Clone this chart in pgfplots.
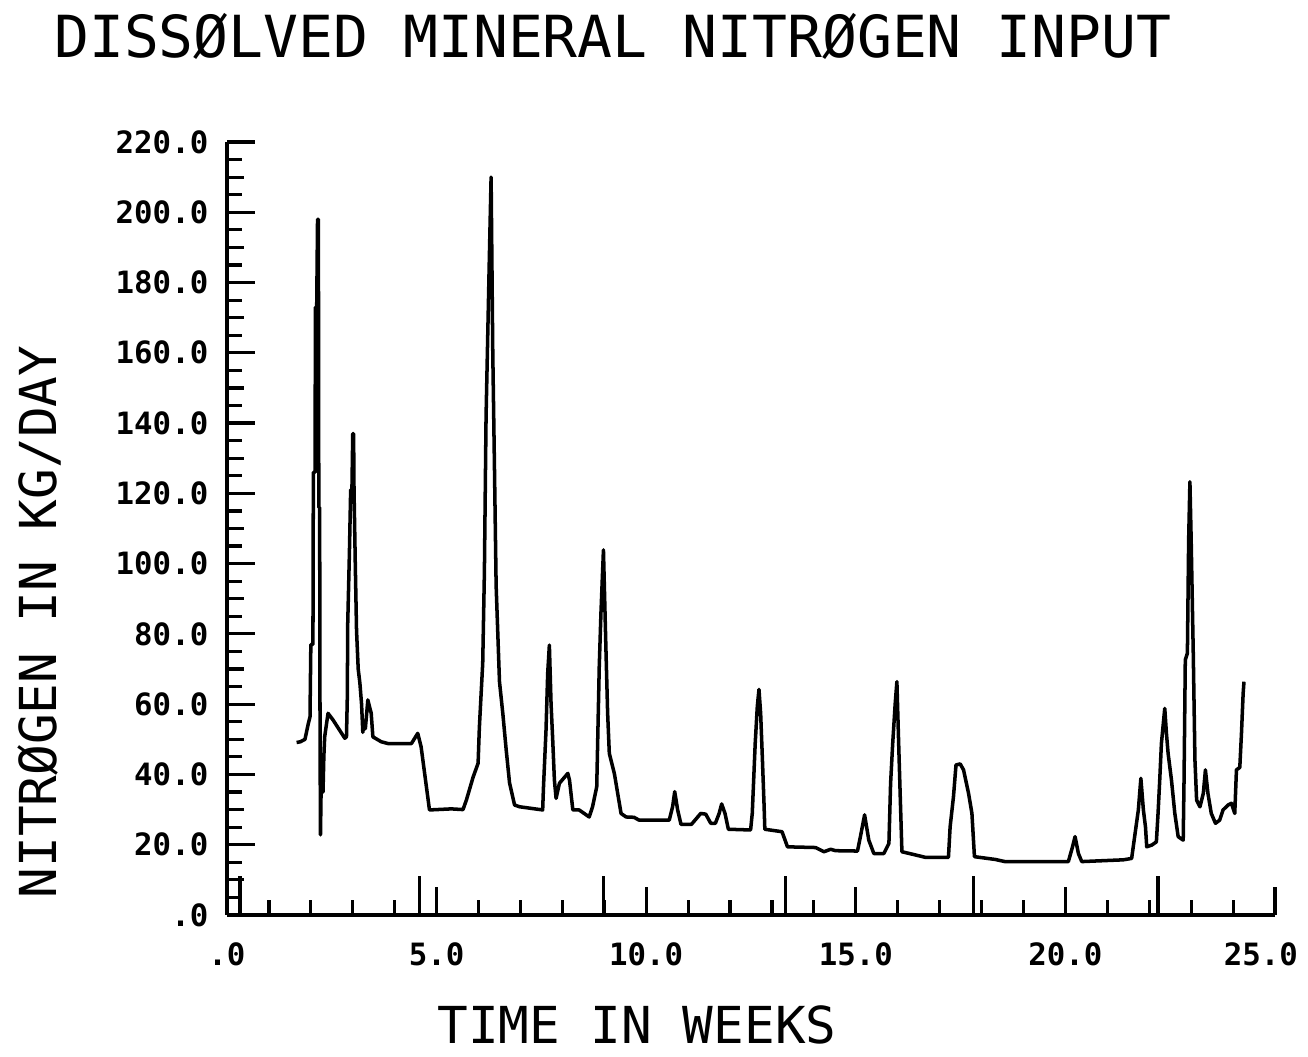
\documentclass[border=0pt]{standalone}
\usepackage{fontspec}
\usepackage{pgfplots}
\pgfplotsset{compat=1.18}
\newfontfamily\plotfont{DejaVu Sans Mono}

% dissolved mineral nitrogen input, kg/day against weeks
\pgfplotstableread{
wk    n
1.66  49.1
1.75  49.3
1.86  50.0
1.94  54.5
1.98  56.4
2.00  77
2.05  77
2.06  126
2.10  126
2.11  173
2.14  173
2.16  198
2.18  198
2.19  116
2.21  116
2.22  49
2.23  22.8
2.25  40
2.29  35
2.31  45
2.33  50.7
2.41  57.4
2.53  55.5
2.81  50.3
2.85  50.7
2.87  62
2.88  83
2.92  103
2.95  121
2.98  121
3.00  137
3.02  137
3.03  121
3.06  100
3.09  81
3.13  70
3.17  66
3.21  60
3.24  52
3.27  55
3.30  53
3.36  61.2
3.44  57.4
3.48  50.7
3.68  49.3
3.84  48.8
4.40  48.8
4.55  51.7
4.63  47.9
4.83  29.9
5.35  30.2
5.63  30.0
5.71  32.7
5.87  39.2
5.99  43.2
6.02  53.3
6.06  62.5
6.10  71.6
6.14  97.5
6.18  142
6.26  188
6.30  210
6.34  160
6.38  127.6
6.42  93.8
6.50  66.4
6.58  57.3
6.66  47
6.74  37.6
6.86  31.3
6.98  30.8
7.53  29.9
7.55  36.5
7.61  52.6
7.65  68.8
7.69  76.8
7.73  60.2
7.77  49.8
7.81  38.4
7.85  33.2
7.93  37.5
8.13  40.3
8.17  38.4
8.25  29.9
8.40  29.9
8.52  28.9
8.64  27.9
8.72  30.8
8.82  36.5
8.84  47.9
8.88  70.7
8.92  85.8
8.98  103.9
9.04  75.4
9.08  57.4
9.12  46
9.24  40.3
9.32  34.6
9.40  28.9
9.52  27.9
9.71  27.8
9.83  27.0
10.55 27.0
10.63 30.8
10.68 35.1
10.75 29.9
10.83 25.8
11.08 25.8
11.30 28.9
11.42 28.7
11.54 26.1
11.65 26.1
11.74 28.9
11.80 31.6
11.88 28.9
11.96 24.4
12.49 24.2
12.53 28.9
12.60 48.8
12.65 59.3
12.69 64.2
12.73 57.4
12.77 45
12.81 31.8
12.83 24.4
13.24 23.7
13.37 19.4
14.04 19.2
14.24 18.0
14.40 18.7
14.52 18.3
15.04 18.2
15.11 22.3
15.21 28.5
15.31 21.3
15.43 17.5
15.67 17.5
15.79 20.4
15.83 37.5
15.88 48.8
15.94 60.2
15.98 66.4
16.02 49.8
16.06 33.7
16.10 18.0
16.42 17.1
16.66 16.4
17.21 16.4
17.25 25.1
17.33 33.7
17.39 42.7
17.49 43.0
17.57 41.3
17.69 34.6
17.77 28.9
17.83 16.6
18.33 15.8
18.48 15.4
18.56 15.2
20.07 15.2
20.17 19.4
20.23 22.3
20.31 17.5
20.39 15.2
21.38 15.7
21.58 16.1
21.64 21.3
21.74 29.9
21.80 38.9
21.86 29.9
21.91 25.1
21.94 19.4
22.06 19.9
22.17 20.8
22.21 28.9
22.25 38.4
22.29 48.8
22.37 58.8
22.41 51.7
22.45 46
22.53 38.4
22.61 28.9
22.69 22.3
22.81 21.3
22.83 38.4
22.86 72.6
22.91 74.5
22.94 106.7
22.97 123.3
23.00 106.7
23.05 74.5
23.09 44.1
23.13 32.7
23.21 30.8
23.29 34.6
23.34 41.3
23.40 34.6
23.48 28.9
23.58 26.1
23.68 27
23.76 29.9
23.88 31.3
23.96 31.8
24.04 28.9
24.08 41.3
24.16 42
24.20 51.7
24.24 63.1
24.26 66.4
}\nitrogen

\begin{document}
\begin{tikzpicture}
\useasboundingbox (0,0) rectangle (26.16cm,21.14cm);
\begin{axis}[
    at={(4.54cm,2.84cm)}, anchor=south west,
    scale only axis,
    width=20.96cm, height=15.46cm,
    xmin=0, xmax=25, ymin=0, ymax=220,
    enlargelimits=false,
    axis lines=left,
    axis line style={-, line width=2.1pt},
    tick align=inside,
    tick style={black, line width=1.8pt},
    major tick length=0.56cm,
    minor tick length=0.3cm,
    xtick={0,5,...,25},
    xticklabels={.0,5.0,10.0,15.0,20.0,\makebox[0pt][r]{25.0\hspace*{-0.46cm}}},
    minor x tick num=4,
    ytick={0,20,...,220},
    yticklabels={.0,20.0,40.0,60.0,80.0,100.0,120.0,140.0,160.0,180.0,200.0,220.0},
    minor y tick num=3,
    extra x ticks={0.31,4.60,8.98,13.33,17.81,22.21},
    extra x tick labels={},
    extra x tick style={major tick length=0.78cm},
    extra y ticks={10,30,...,210},
    extra y tick labels={},
    extra y tick style={major tick length=0.34cm},
    tick label style={font=\plotfont\bfseries\fontsize{17.5}{20}\selectfont},
    xticklabel style={yshift=-0.42cm},
    yticklabel style={xshift=-0.25cm},
    every axis title shift=0pt,
    title={DISSØLVED MINERAL NITRØGEN INPUT},
    title style={font=\plotfont\fontsize{33}{36}\selectfont,
        at={(axis description cs:-0.1708,1.1087)}, anchor=base west},
    xlabel={TIME IN WEEKS},
    xlabel style={font=\plotfont\fontsize{29}{32}\selectfont,
        at={(axis description cs:0.3912,-0.1665)}, anchor=base},
    ylabel={NITRØGEN IN KG/DAY},
    ylabel style={font=\plotfont\fontsize{29}{32}\selectfont,
        at={(axis description cs:-0.1630,0.379)}, anchor=base},
]
\addplot[black, line width=2pt, line join=round] table[x=wk, y=n] {\nitrogen};
\end{axis}
\end{tikzpicture}
\end{document}
